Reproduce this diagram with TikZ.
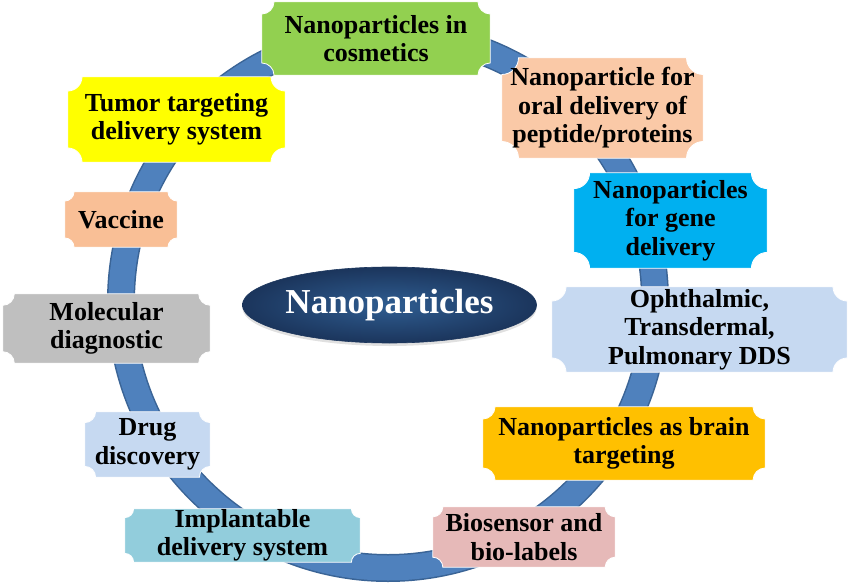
\documentclass[tikz,border=0pt]{standalone}
\usepackage{fontspec}
\setmainfont{Liberation Serif}
\usetikzlibrary{backgrounds,shapes.geometric,shadows}
\definecolor{ringblue}{HTML}{4F81BD}
\definecolor{ringedge}{HTML}{3A6496}
\definecolor{cgreen}{HTML}{92D050}
\definecolor{cpeachl}{HTML}{FAC9A7}
\definecolor{cpeach}{HTML}{F9BF96}
\definecolor{ccyan}{HTML}{00B0F0}
\definecolor{clblue}{HTML}{C6D9F1}
\definecolor{cgold}{HTML}{FFC000}
\definecolor{cpink}{HTML}{E6B9B8}
\definecolor{cteal}{HTML}{92CDDC}
\definecolor{cgray}{HTML}{BFBFBF}
\definecolor{cyellow}{HTML}{FFFF00}
\definecolor{navyin}{HTML}{2F5D91}
\definecolor{navyout}{HTML}{1B355C}
\newcommand\plq[3]{%
  \filldraw[fill=#3, draw=white, line width=0.8pt]
    ([xshift=#2]#1.south west) -- ([xshift=-#2]#1.south east)
    arc[start angle=180,end angle=90,radius=#2]
    -- ([yshift=-#2]#1.north east)
    arc[start angle=270,end angle=180,radius=#2]
    -- ([xshift=#2]#1.north west)
    arc[start angle=0,end angle=-90,radius=#2]
    -- ([yshift=#2]#1.south west)
    arc[start angle=90,end angle=0,radius=#2] -- cycle;}
\tikzset{
  plaquetext/.style={inner sep=0pt, align=center, text=black,
    font=\fontsize{26}{28.5}\selectfont\bfseries},
}
\begin{document}
\begin{tikzpicture}[x=1pt,y=1pt]
\useasboundingbox (0,0) rectangle (850,587);
% text nodes (box size = node size)
\node[plaquetext, minimum width=228, minimum height=73] (cos) at (376,548.5) {Nanoparticles in\\cosmetics};
\node[plaquetext, minimum width=201, minimum height=100] (oral) at (602.5,479) {Nanoparticle for\\oral delivery of\\peptide/proteins};
\node[plaquetext, minimum width=193, minimum height=95] (gene) at (670.5,366.5) {Nanoparticles\\for gene\\delivery};
\node[plaquetext, minimum width=295, minimum height=85] (oph) at (699.5,257.5) {Ophthalmic,\\Transdermal,\\Pulmonary DDS};
\node[plaquetext, minimum width=282, minimum height=73] (brain) at (624,143.5) {Nanoparticles as brain\\targeting};
\node[plaquetext, minimum width=182, minimum height=60] (bio) at (524,50) {Biosensor and\\bio-labels};
\node[plaquetext, minimum width=235, minimum height=53] (impl) at (242.5,51.5) {Implantable\\delivery system};
\node[plaquetext, minimum width=125, minimum height=65] (drug) at (147.5,142.5) {Drug\\discovery};
\node[plaquetext, minimum width=207, minimum height=69] (mol) at (106.5,258.5) {Molecular\\diagnostic};
\node[plaquetext, minimum width=112, minimum height=55] (vac) at (121,367.5) {Vaccine};
\node[plaquetext, minimum width=217, minimum height=85] (tum) at (176.5,467.5) {Tumor targeting\\delivery system};
% centre
\node[ellipse, minimum width=255, minimum height=76, inner sep=0pt,
  inner color=navyin, outer color=navyout, draw=navyout, line width=0.6pt,
  drop shadow={shadow xshift=0pt, shadow yshift=-3pt, fill=black!30, opacity=0.4},
  text=white, font=\fontsize{35}{40}\selectfont\bfseries] (np) at (389.5,282) {Nanoparticles};
\begin{scope}[on background layer]
  \draw[ringedge, line width=28] (388,286) circle[radius=267];
  \draw[ringblue, line width=25] (388,286) circle[radius=267];
  \plq{cos}{12.2}{cgreen}
  \plq{oral}{16.7}{cpeachl}
  \plq{gene}{15.8}{ccyan}
  \plq{oph}{14.2}{clblue}
  \plq{brain}{12.2}{cgold}
  \plq{bio}{10}{cpink}
  \plq{impl}{8.8}{cteal}
  \plq{drug}{10.8}{clblue}
  \plq{mol}{11.5}{cgray}
  \plq{vac}{9.2}{cpeach}
  \plq{tum}{14.2}{cyellow}
\end{scope}
\end{tikzpicture}
\end{document}
